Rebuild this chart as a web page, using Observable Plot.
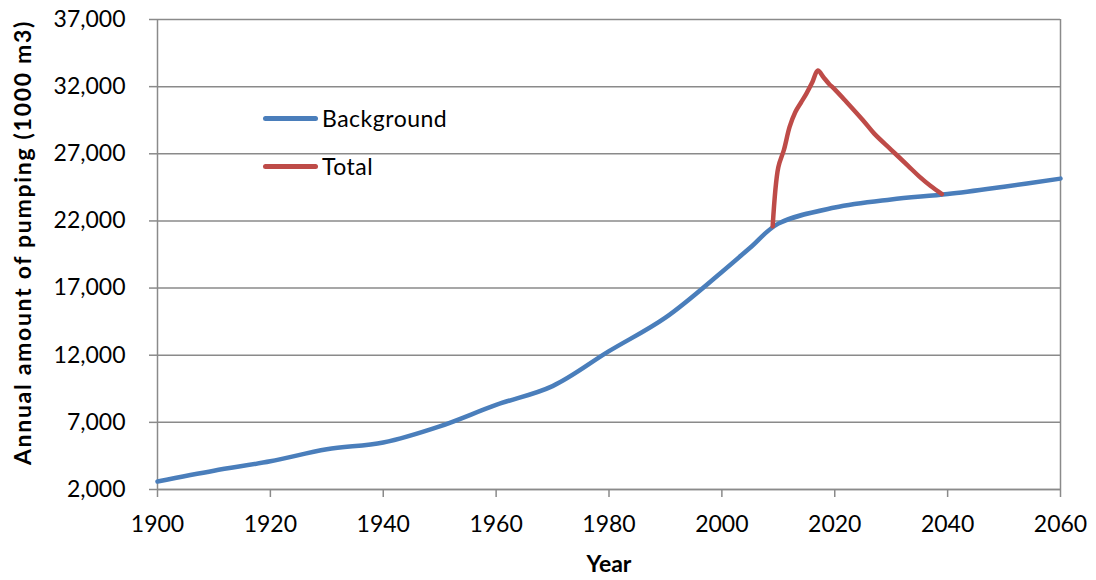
<!DOCTYPE html>
<html>
<head>
<meta charset="utf-8">
<script src="https://cdn.jsdelivr.net/npm/d3@7"></script>
<script src="https://cdn.jsdelivr.net/npm/@observablehq/plot@0.6"></script>
<style>
  html, body { margin: 0; padding: 0; background: #fff; }
  #wrap { position: relative; width: 1096px; height: 580px; font-family: Lato, "Open Sans", sans-serif; }
  #wrap svg text { fill: #000; }
  [aria-label="y-axis tick label"] text, [aria-label="x-axis tick label"] text { font-size: 23px; }
  [aria-label="y-axis label"] text, [aria-label="x-axis label"] text { font-weight: bold; font-size: 23px; }
  [aria-label="y-axis label"] text { letter-spacing: 1.7px; }
  #legend { position: absolute; left: 263px; top: 94px; font-size: 23px; letter-spacing: 0.5px; color: #000; }
  .item { display: flex; align-items: center; height: 48px; }
  .swatch { width: 55px; height: 5px; border-radius: 3px; margin-right: 4px; }
</style>
</head>
<body>
<div id="wrap"></div>
<script>
const bgYears  = [1900, 1910, 1920, 1930, 1940, 1950, 1960, 1970, 1980, 1990, 2000, 2005, 2010, 2020, 2030, 2040, 2050, 2060];
const bgValues = [2600, 3400, 4100, 5000, 5500, 6700, 8300, 9700, 12300, 14800, 18200, 20000, 21800, 23000, 23600, 24000, 24550, 25150];

const totYears  = [2009, 2010, 2011, 2012, 2013, 2014, 2015, 2016, 2017, 2018, 2019, 2020, 2022, 2025, 2027, 2030, 2033, 2035, 2037, 2039];
const totValues = [21600, 26000, 27300, 29000, 30100, 30800, 31500, 32300, 33200, 32700, 32200, 31800, 30900, 29500, 28500, 27300, 26100, 25300, 24600, 24000];

const seriesNames = ["Background", "Total"];
const seriesColors = ["#4A7EBB", "#BE4B48"];
const yTicks = [2000, 7000, 12000, 17000, 22000, 27000, 32000, 37000];
const xTicks = [1900, 1920, 1940, 1960, 1980, 2000, 2020, 2040, 2060];

const background = bgYears.map((y, i) => ({year: y, value: bgValues[i]}));
const total = totYears.map((y, i) => ({year: y, value: totValues[i]}));

const chart = Plot.plot({
  width: 1096,
  height: 580,
  marginLeft: 157,
  marginRight: 36,
  marginTop: 19,
  marginBottom: 91,
  style: {fontSize: "23px", fontFamily: "Lato, 'Open Sans', sans-serif", background: "#fff", color: "#000"},
  x: {domain: [1900, 2060]},
  y: {domain: [2000, 37000]},
  marks: [
    Plot.gridY(yTicks, {stroke: "#8a8a8a", strokeOpacity: 1, strokeWidth: 1.5}),
    Plot.ruleX([2060], {stroke: "#8a8a8a", strokeWidth: 1.5}),
    Plot.ruleX([1900], {stroke: "#8a8a8a", strokeWidth: 1.5}),
    Plot.ruleY([2000], {stroke: "#8a8a8a", strokeWidth: 1.5}),
    Plot.axisY(yTicks, {tickFormat: d3.format(","), tickSize: 8, tickPadding: 24, stroke: "#8a8a8a", strokeWidth: 1.5, fontSize: 23,
      label: "Annual amount of pumping (1000 m3)", labelAnchor: "center", labelArrow: "none", labelOffset: 142}),
    Plot.axisX(xTicks, {tickFormat: d3.format("d"), tickSize: 8, tickPadding: 18, stroke: "#8a8a8a", strokeWidth: 1.5, fontSize: 23,
      label: "Year", labelAnchor: "center", labelArrow: "none", labelOffset: 82}),
    Plot.line(background, {x: "year", y: "value", stroke: seriesColors[0], strokeWidth: 4.5, curve: "catmull-rom"}),
    Plot.line(total, {x: "year", y: "value", stroke: seriesColors[1], strokeWidth: 4.5, curve: "catmull-rom"})
  ]
});
document.getElementById("wrap").appendChild(chart);

const yl = chart.querySelector('[aria-label="y-axis label"]');
if (yl) {
  const t = yl.getAttribute("transform") || "";
  yl.setAttribute("transform", "translate(-1,-12) " + t);
}

const legend = document.createElement("div");
legend.id = "legend";
seriesNames.forEach((n, i) => {
  const it = document.createElement("div");
  it.className = "item";
  it.innerHTML = `<div class="swatch" style="background:${seriesColors[i]}"></div><span>${n}</span>`;
  legend.appendChild(it);
});
document.getElementById("wrap").appendChild(legend);
</script>
</body>
</html>
